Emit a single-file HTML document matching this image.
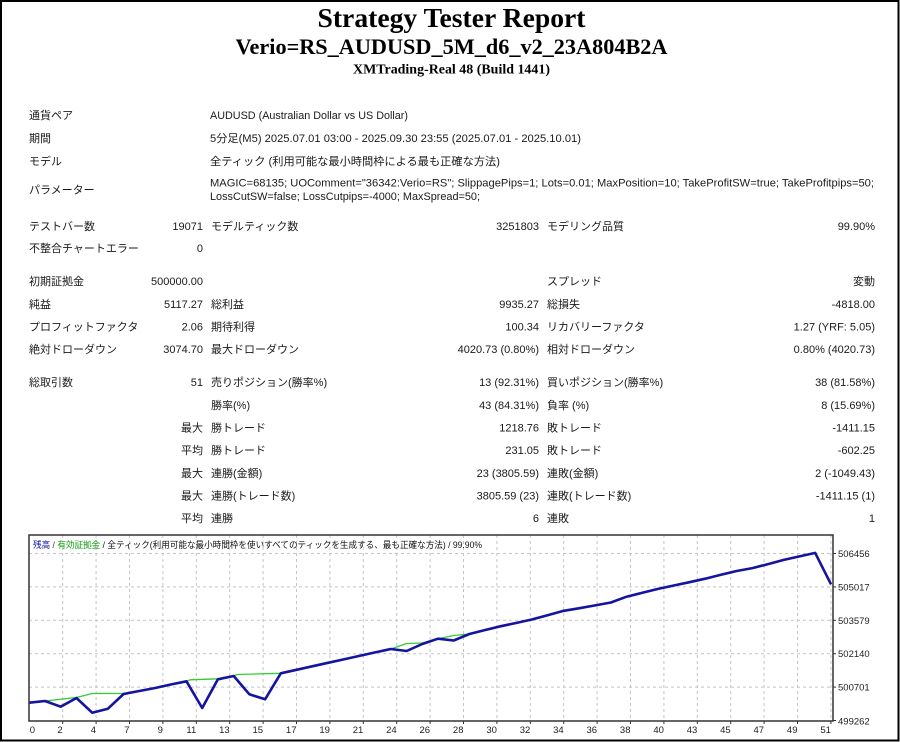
<!DOCTYPE html>
<html><head><meta charset="utf-8"><style>
html,body{margin:0;padding:0;background:#fff;}
svg{display:block;}
.t{font-family:"Liberation Sans","Noto Sans CJK JP",sans-serif;font-size:11px;fill:#1a1a1a;}
.e{text-anchor:end;}
.ttl{font-family:"Liberation Serif","Noto Serif CJK SC",serif;font-weight:bold;fill:#000;text-anchor:middle;}
.ax{font-family:"Liberation Sans",sans-serif;font-size:9.5px;fill:#222;}
.lg{font-family:"Liberation Sans","Noto Sans CJK JP",sans-serif;font-size:9px;}
</style></head><body>
<svg width="900" height="742" viewBox="0 0 900 742" xmlns="http://www.w3.org/2000/svg">
<rect x="0" y="0" width="900" height="742" fill="#fff"/>
<rect x="1" y="1" width="897.5" height="739.5" fill="none" stroke="#000" stroke-width="2"/>

<text class="ttl" x="451.5" y="27" font-size="27" textLength="268" lengthAdjust="spacingAndGlyphs">Strategy Tester Report</text>
<text class="ttl" x="451.5" y="54" font-size="22" textLength="432" lengthAdjust="spacingAndGlyphs">Verio=RS_AUDUSD_5M_d6_v2_23A804B2A</text>
<text class="ttl" x="451.5" y="73.5" font-size="14" textLength="197" lengthAdjust="spacingAndGlyphs">XMTrading-Real 48 (Build 1441)</text>

<g class="t">
<text x="29" y="119">通貨ペア</text>
<text x="210" y="119" textLength="198" lengthAdjust="spacingAndGlyphs">AUDUSD (Australian Dollar vs US Dollar)</text>
<text x="29" y="142">期間</text>
<text x="210" y="142" textLength="371" lengthAdjust="spacingAndGlyphs">5分足(M5) 2025.07.01 03:00 - 2025.09.30 23:55 (2025.07.01 - 2025.10.01)</text>
<text x="29" y="165">モデル</text>
<text x="210" y="165" textLength="290" lengthAdjust="spacingAndGlyphs">全ティック (利用可能な最小時間枠による最も正確な方法)</text>
<text x="29" y="193.5">パラメーター</text>
<text x="210" y="186.7" textLength="664" lengthAdjust="spacingAndGlyphs">MAGIC=68135; UOComment="36342:Verio=RS"; SlippagePips=1; Lots=0.01; MaxPosition=10; TakeProfitSW=true; TakeProfitpips=50;</text>
<text x="210" y="200" textLength="270" lengthAdjust="spacingAndGlyphs">LossCutSW=false; LossCutpips=-4000; MaxSpread=50;</text>

<text x="29" y="230">テストバー数</text>
<text class="e" x="203" y="230">19071</text>
<text x="211" y="230">モデルティック数</text>
<text class="e" x="539" y="230">3251803</text>
<text x="547" y="230">モデリング品質</text>
<text class="e" x="875" y="230">99.90%</text>

<text x="29" y="252">不整合チャートエラー</text>
<text class="e" x="203" y="252">0</text>

<text x="29" y="285">初期証拠金</text>
<text class="e" x="203" y="285">500000.00</text>
<text x="547" y="285">スプレッド</text>
<text class="e" x="875" y="285">変動</text>

<text x="29" y="308">純益</text>
<text class="e" x="203" y="308">5117.27</text>
<text x="211" y="308">総利益</text>
<text class="e" x="539" y="308">9935.27</text>
<text x="547" y="308">総損失</text>
<text class="e" x="875" y="308">-4818.00</text>

<text x="29" y="330.5">プロフィットファクタ</text>
<text class="e" x="203" y="330.5">2.06</text>
<text x="211" y="330.5">期待利得</text>
<text class="e" x="539" y="330.5">100.34</text>
<text x="547" y="330.5">リカバリーファクタ</text>
<text class="e" x="875" y="330.5">1.27 (YRF: 5.05)</text>

<text x="29" y="353">絶対ドローダウン</text>
<text class="e" x="203" y="353">3074.70</text>
<text x="211" y="353">最大ドローダウン</text>
<text class="e" x="539" y="353">4020.73 (0.80%)</text>
<text x="547" y="353">相対ドローダウン</text>
<text class="e" x="875" y="353">0.80% (4020.73)</text>

<text x="29" y="386">総取引数</text>
<text class="e" x="203" y="386">51</text>
<text x="211" y="386">売りポジション(勝率%)</text>
<text class="e" x="539" y="386">13 (92.31%)</text>
<text x="547" y="386">買いポジション(勝率%)</text>
<text class="e" x="875" y="386">38 (81.58%)</text>

<text x="211" y="409">勝率(%)</text>
<text class="e" x="539" y="409">43 (84.31%)</text>
<text x="547" y="409">負率 (%)</text>
<text class="e" x="875" y="409">8 (15.69%)</text>

<text class="e" x="203" y="431.5">最大</text>
<text x="211" y="431.5">勝トレード</text>
<text class="e" x="539" y="431.5">1218.76</text>
<text x="547" y="431.5">敗トレード</text>
<text class="e" x="875" y="431.5">-1411.15</text>

<text class="e" x="203" y="454">平均</text>
<text x="211" y="454">勝トレード</text>
<text class="e" x="539" y="454">231.05</text>
<text x="547" y="454">敗トレード</text>
<text class="e" x="875" y="454">-602.25</text>

<text class="e" x="203" y="477">最大</text>
<text x="211" y="477">連勝(金額)</text>
<text class="e" x="539" y="477">23 (3805.59)</text>
<text x="547" y="477">連敗(金額)</text>
<text class="e" x="875" y="477">2 (-1049.43)</text>

<text class="e" x="203" y="499.5">最大</text>
<text x="211" y="499.5">連勝(トレード数)</text>
<text class="e" x="539" y="499.5">3805.59 (23)</text>
<text x="547" y="499.5">連敗(トレード数)</text>
<text class="e" x="875" y="499.5">-1411.15 (1)</text>

<text class="e" x="203" y="522">平均</text>
<text x="211" y="522">連勝</text>
<text class="e" x="539" y="522">6</text>
<text x="547" y="522">連敗</text>
<text class="e" x="875" y="522">1</text>
</g>

<!-- chart -->
<rect x="29" y="535" width="804" height="186" fill="#fff"/>
<g stroke="#c4c4c4" stroke-width="1" stroke-dasharray="3,3" fill="none">
<line x1="29" y1="553.5" x2="833" y2="553.5"/>
<line x1="29" y1="586.9" x2="833" y2="586.9"/>
<line x1="29" y1="620.3" x2="833" y2="620.3"/>
<line x1="29" y1="653.7" x2="833" y2="653.7"/>
<line x1="29" y1="687.1" x2="833" y2="687.1"/>
<line x1="62.7" y1="535" x2="62.7" y2="721"/>
<line x1="96.1" y1="535" x2="96.1" y2="721"/>
<line x1="129.5" y1="535" x2="129.5" y2="721"/>
<line x1="162.9" y1="535" x2="162.9" y2="721"/>
<line x1="196.3" y1="535" x2="196.3" y2="721"/>
<line x1="229.7" y1="535" x2="229.7" y2="721"/>
<line x1="263.1" y1="535" x2="263.1" y2="721"/>
<line x1="296.5" y1="535" x2="296.5" y2="721"/>
<line x1="329.9" y1="535" x2="329.9" y2="721"/>
<line x1="363.3" y1="535" x2="363.3" y2="721"/>
<line x1="396.7" y1="535" x2="396.7" y2="721"/>
<line x1="430.1" y1="535" x2="430.1" y2="721"/>
<line x1="463.5" y1="535" x2="463.5" y2="721"/>
<line x1="496.9" y1="535" x2="496.9" y2="721"/>
<line x1="530.3" y1="535" x2="530.3" y2="721"/>
<line x1="563.7" y1="535" x2="563.7" y2="721"/>
<line x1="597.1" y1="535" x2="597.1" y2="721"/>
<line x1="630.5" y1="535" x2="630.5" y2="721"/>
<line x1="663.9" y1="535" x2="663.9" y2="721"/>
<line x1="697.3" y1="535" x2="697.3" y2="721"/>
<line x1="730.7" y1="535" x2="730.7" y2="721"/>
<line x1="764.1" y1="535" x2="764.1" y2="721"/>
<line x1="797.5" y1="535" x2="797.5" y2="721"/>
<line x1="830.9" y1="535" x2="830.9" y2="721"/>
</g>

<polyline fill="none" stroke="#32cd32" stroke-width="1.3" stroke-linejoin="round" points="29.3,702.7 45,701 76.5,697.5 92.2,693.5 123.6,693.5 139.3,691 155.1,688 170.8,684.5 186.5,681.3 190,679.8 217.9,678.8 233.7,676 237,674.5 280.8,673.3 296.5,669.8 312.2,666.3 328,662.8 343.7,659.4 359.4,655.9 375.1,652.4 390.8,649 406.6,643.5 422.3,643 438,638.7 453.7,635.5 469.4,634 485.2,630 500.9,626.2 516.6,622.9 532.3,619.4 548,615.1 563.8,610.8 579.5,608.2 595.2,605.4 610.9,602.5 626.6,596.7 642.4,592.8 658.1,588.9 673.8,585.5 689.5,582.2 705.2,578.7 720.9,574.7 736.7,571 752.4,568.1 768.1,564.1 783.8,559.9 799.5,556.4 815.2,552.9 831,584.3"/>
<polyline fill="none" stroke="#1414a0" stroke-width="2.6" stroke-linejoin="round" points="29.3,702.7 45,701 60.7,706.7 76.5,698 92.2,712.7 107.9,708.7 123.6,694 139.3,691 155.1,688 170.8,684.5 186.5,681.3 202.2,708 217.9,679.3 233.7,676 249.4,694.3 265.1,699.3 280.8,673.3 296.5,669.8 312.2,666.3 328,662.8 343.7,659.4 359.4,655.9 375.1,652.4 390.8,649 406.6,651 422.3,644 438,638.7 453.7,640.5 469.4,634 485.2,630 500.9,626.2 516.6,622.9 532.3,619.4 548,615.1 563.8,610.8 579.5,608.2 595.2,605.4 610.9,602.5 626.6,596.7 642.4,592.8 658.1,588.9 673.8,585.5 689.5,582.2 705.2,578.7 720.9,574.7 736.7,571 752.4,568.1 768.1,564.1 783.8,559.9 799.5,556.4 815.2,552.9 831,584.3"/>

<rect x="29" y="535" width="804" height="186" fill="none" stroke="#333" stroke-width="1.5"/>

<g stroke="#333" stroke-width="1">
<line x1="62.7" y1="721" x2="62.7" y2="724"/><line x1="96.1" y1="721" x2="96.1" y2="724"/><line x1="129.5" y1="721" x2="129.5" y2="724"/><line x1="162.9" y1="721" x2="162.9" y2="724"/><line x1="196.3" y1="721" x2="196.3" y2="724"/><line x1="229.7" y1="721" x2="229.7" y2="724"/><line x1="263.1" y1="721" x2="263.1" y2="724"/><line x1="296.5" y1="721" x2="296.5" y2="724"/><line x1="329.9" y1="721" x2="329.9" y2="724"/><line x1="363.3" y1="721" x2="363.3" y2="724"/><line x1="396.7" y1="721" x2="396.7" y2="724"/><line x1="430.1" y1="721" x2="430.1" y2="724"/><line x1="463.5" y1="721" x2="463.5" y2="724"/><line x1="496.9" y1="721" x2="496.9" y2="724"/><line x1="530.3" y1="721" x2="530.3" y2="724"/><line x1="563.7" y1="721" x2="563.7" y2="724"/><line x1="597.1" y1="721" x2="597.1" y2="724"/><line x1="630.5" y1="721" x2="630.5" y2="724"/><line x1="663.9" y1="721" x2="663.9" y2="724"/><line x1="697.3" y1="721" x2="697.3" y2="724"/><line x1="730.7" y1="721" x2="730.7" y2="724"/><line x1="764.1" y1="721" x2="764.1" y2="724"/><line x1="797.5" y1="721" x2="797.5" y2="724"/><line x1="830.9" y1="721" x2="830.9" y2="724"/>
<line x1="833" y1="553.5" x2="836" y2="553.5"/><line x1="833" y1="586.9" x2="836" y2="586.9"/><line x1="833" y1="620.3" x2="836" y2="620.3"/><line x1="833" y1="653.7" x2="836" y2="653.7"/><line x1="833" y1="687.1" x2="836" y2="687.1"/><line x1="833" y1="720.5" x2="836" y2="720.5"/>
</g>

<g class="ax">
<text x="838" y="557">506456</text>
<text x="838" y="590.4">505017</text>
<text x="838" y="623.8">503579</text>
<text x="838" y="657.2">502140</text>
<text x="838" y="690.6">500701</text>
<text x="838" y="724.5">499262</text>
</g>
<g class="ax" text-anchor="end">
<text x="35" y="733">0</text>
<text x="62.7" y="733">2</text>
<text x="96.1" y="733">4</text>
<text x="129.5" y="733">7</text>
<text x="162.9" y="733">9</text>
<text x="196.3" y="733">11</text>
<text x="229.7" y="733">13</text>
<text x="263.1" y="733">15</text>
<text x="296.5" y="733">17</text>
<text x="329.9" y="733">19</text>
<text x="363.3" y="733">21</text>
<text x="396.7" y="733">24</text>
<text x="430.1" y="733">26</text>
<text x="463.5" y="733">28</text>
<text x="496.9" y="733">30</text>
<text x="530.3" y="733">32</text>
<text x="563.7" y="733">34</text>
<text x="597.1" y="733">36</text>
<text x="630.5" y="733">38</text>
<text x="663.9" y="733">40</text>
<text x="697.3" y="733">43</text>
<text x="730.7" y="733">45</text>
<text x="764.1" y="733">47</text>
<text x="797.5" y="733">49</text>
<text x="830.9" y="733">51</text>
</g>

<text class="lg" x="33" y="548" textLength="449" lengthAdjust="spacingAndGlyphs"><tspan fill="#1414b0">残高</tspan><tspan fill="#333"> / </tspan><tspan fill="#10a010">有効証拠金</tspan><tspan fill="#111"> / 全ティック(利用可能な最小時間枠を使いすべてのティックを生成する、最も正確な方法) / 99.90%</tspan></text>
</svg>
</body></html>
